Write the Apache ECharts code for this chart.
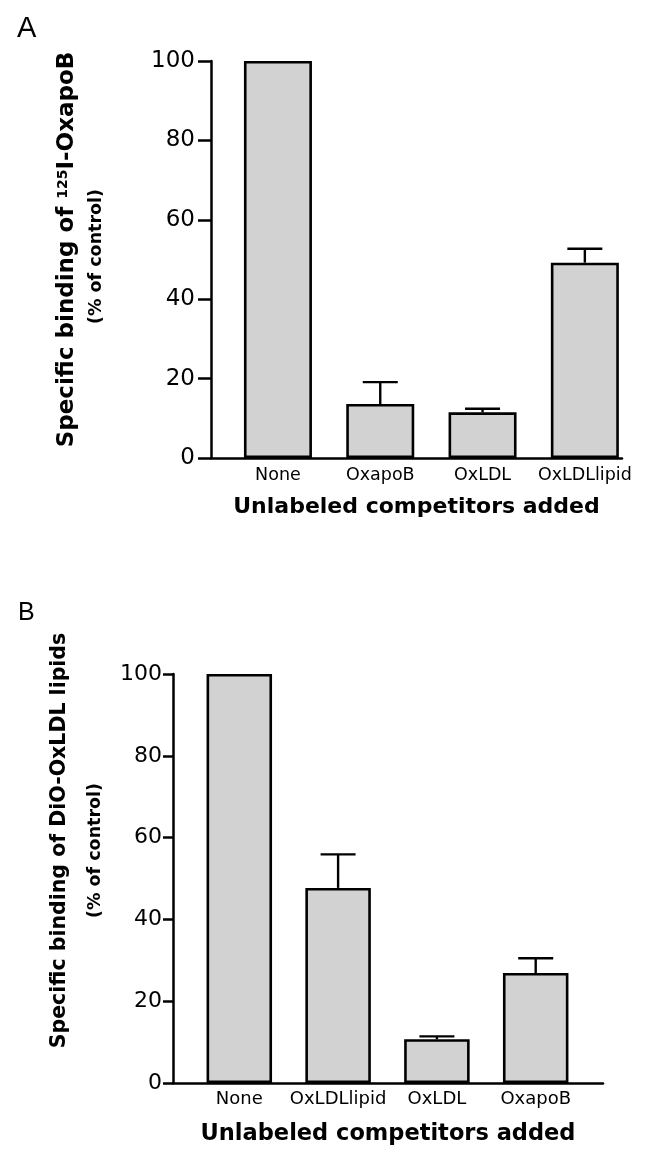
<!DOCTYPE html>
<html>
<head>
<meta charset="utf-8">
<script src="https://cdn.jsdelivr.net/npm/echarts@6/dist/echarts.min.js"></script>
<style>
html,body{margin:0;padding:0;background:#fff;}
#chart{width:651px;height:1172px;}
</style>
</head>
<body>
<div id="chart"></div>
<script>
// ---- data ----
const catsA = ['None', 'OxapoB', 'OxLDL', 'OxLDLlipid'];
const valsA = [100, 13.6, 11.5, 49.2];
const errA  = [0, 5.5, 0.9, 3.5];

const catsB = ['None', 'OxLDLlipid', 'OxLDL', 'OxapoB'];
const valsB = [100, 47.7, 10.7, 26.9];
const errB  = [0, 8.2, 0.7, 3.6];

const yTicks = [0, 20, 40, 60, 80, 100];

const titleFont = 'DejaVu Sans';
const black = '#000';

function errItem(params, api) {
  const x = api.value(0), v = api.value(1), e = api.value(2);
  if (!e) return null;
  const base = api.coord([x, v]);
  const top = api.coord([x, v + e]);
  const half = 17.5;
  return {
    type: 'group',
    children: [
      { type: 'line', shape: { x1: base[0], y1: base[1], x2: top[0], y2: top[1] },
        style: { stroke: black, lineWidth: 2.4 } },
      { type: 'line', shape: { x1: top[0] - half, y1: top[1], x2: top[0] + half, y2: top[1] },
        style: { stroke: black, lineWidth: 2.4 } }
    ]
  };
}

function outerX(grid, gap, size) {
  return {
    gridIndex: grid, type: 'value', min: 0, max: 1,
    axisLine: { show: true, lineStyle: { color: black, width: 2.5 } },
    axisTick: { show: false }, axisLabel: { show: false }, splitLine: { show: false },
    name: 'Unlabeled competitors added', nameLocation: 'middle', nameGap: gap,
    nameTextStyle: { fontFamily: titleFont, fontWeight: 'bold', fontSize: size, color: black }
  };
}
function innerX(grid, cats, size, margin) {
  return {
    gridIndex: grid, type: 'category', data: cats,
    axisLine: { show: false }, axisTick: { show: false }, splitLine: { show: false },
    axisLabel: { fontFamily: titleFont, fontSize: size, color: black, margin: margin, interval: 0 }
  };
}
function mainY(grid, name, gap, size, labSize, tickLen, margin, pad) {
  return {
    gridIndex: grid, type: 'value', min: 0, max: 100, interval: 20, position: 'left',
    axisLine: { show: true, lineStyle: { color: black, width: 2.5 } },
    axisTick: { show: true, length: tickLen, lineStyle: { color: black, width: 2.5 } },
    axisLabel: { fontFamily: titleFont, fontSize: labSize, color: black, margin: margin },
    splitLine: { show: false },
    name: name, nameLocation: 'middle', nameRotate: 90, nameGap: gap,
    nameTextStyle: {
      fontFamily: titleFont, fontWeight: 'bold', fontSize: size, color: black,
      padding: [0, 0, 0, pad],
      rich: { sup: { fontFamily: titleFont, fontWeight: 'bold', fontSize: Math.round(size * 0.62), verticalAlign: 'top', color: black } }
    }
  };
}
function nameOnlyY(grid, name, gap, size, pad) {
  return {
    gridIndex: grid, type: 'value', min: 0, max: 100, position: 'left',
    axisLine: { show: false }, axisTick: { show: false }, axisLabel: { show: false },
    splitLine: { show: false },
    name: name, nameLocation: 'middle', nameRotate: 90, nameGap: gap,
    nameTextStyle: { fontFamily: titleFont, fontWeight: 'bold', fontSize: size, color: black, padding: [0, 0, 0, pad] }
  };
}
function hiddenY(grid) {
  return { gridIndex: grid, type: 'value', min: 0, max: 100, show: false };
}

const option = {
  animation: false,
  backgroundColor: '#fff',
  title: [
    { text: 'A', left: 12, top: 9, textStyle: { fontFamily: 'Liberation Sans', fontWeight: 'normal', fontSize: 29, color: black } },
    { text: 'B', left: 13, top: 596, textStyle: { fontFamily: 'Liberation Sans', fontWeight: 'normal', fontSize: 25, color: black } }
  ],
  grid: [
    { left: 211, top: 61, width: 411, height: 397 },
    { left: 226.8, top: 61, width: 409.2, height: 397 },
    { left: 173, top: 674, width: 430, height: 409 },
    { left: 189.9, top: 674, width: 395.2, height: 409 }
  ],
  xAxis: [
    outerX(0, 38, 22),
    innerX(1, catsA, 17.5, 8),
    outerX(2, 40, 22.5),
    innerX(3, catsB, 18, 7)
  ],
  yAxis: [
    mainY(0, 'Specific binding of {sup|125}I-OxapoB', 132, 23, 23, 13, 16, 20),
    hiddenY(1),
    mainY(2, 'Specific binding of DiO-OxLDL lipids', 103, 20.5, 22, 10, 11, 76),
    hiddenY(3),
    nameOnlyY(0, '(% of control)', 106, 17.5, 6),
    nameOnlyY(2, '(% of control)', 69, 17.5, 56)
  ],
  series: [
    { type: 'bar', xAxisIndex: 1, yAxisIndex: 1, data: valsA, barWidth: 68,
      itemStyle: { color: '#d2d2d2', borderColor: black, borderWidth: 2.6 } },
    { type: 'custom', xAxisIndex: 1, yAxisIndex: 1, renderItem: errItem, z: 5,
      data: catsA.map((c, i) => [i, valsA[i], errA[i]]) },
    { type: 'bar', xAxisIndex: 3, yAxisIndex: 3, data: valsB, barWidth: 65.5,
      itemStyle: { color: '#d2d2d2', borderColor: black, borderWidth: 2.6 } },
    { type: 'custom', xAxisIndex: 3, yAxisIndex: 3, renderItem: errItem, z: 5,
      data: catsB.map((c, i) => [i, valsB[i], errB[i]]) }
  ]
};

const chart = echarts.init(document.getElementById('chart'), null, { renderer: 'canvas' });
chart.setOption(option);
</script>
</body>
</html>
